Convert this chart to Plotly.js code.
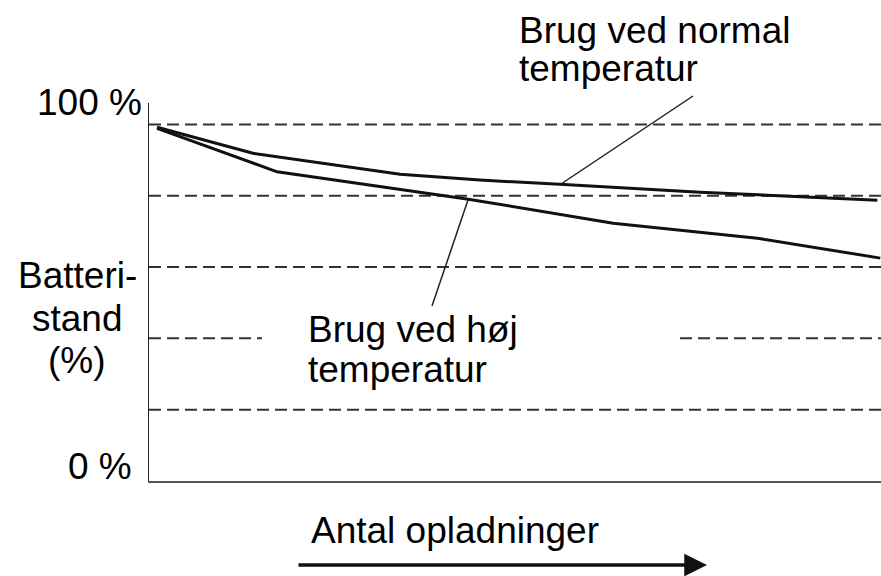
<!DOCTYPE html>
<html>
<head>
<meta charset="utf-8">
<script src="https://cdn.plot.ly/plotly-3.0.1.min.js"></script>
<style>html,body{margin:0;padding:0;background:#fff;}#chart{width:881px;height:576px;}</style>
</head>
<body>
<div id="chart"></div>
<script>
// Data (x: relative number of charges 0-100, y: battery level %)
const cyclesNormal = [1.1, 14.2, 34.3, 45.2, 56.1, 75.3, 99.5];
const levelNormal  = [99.2, 91.9, 86.0, 84.4, 83.2, 81.0, 78.7];
const cyclesHigh   = [1.1, 17.5, 43.4, 63.4, 83.1, 99.9];
const levelHigh    = [98.9, 86.7, 79.1, 72.3, 68.1, 62.5];
const gridLevels   = [20, 40, 60, 80, 100];
const labelNormal  = ["Brug ved normal", "temperatur"];
const labelHigh    = ["Brug ved høj", "temperatur"];
const yLabel       = ["Batteri-", "stand", "(%)"];
const yTickTop     = "100 %";
const yTickBottom  = "0 %";
const xLabel       = "Antal opladninger";

// pixel -> paper helpers (plot area: x 149..881, y 103..481)
const L = 149, W = 732, B = 481, H = 378;
const PX = p => (p - L) / W;
const PY = p => (B - p) / H;

const font = {family: 'Liberation Sans, Arial, sans-serif', size: 37, color: '#000'};
const txt = (text, x, y, xa) => ({text, x: PX(x), y: PY(y), xref: 'paper', yref: 'paper',
  xanchor: xa, yanchor: 'middle', showarrow: false, font});

const traces = [
  {x: cyclesNormal, y: levelNormal, mode: 'lines', line: {color: '#111', width: 3}, hoverinfo: 'none'},
  {x: cyclesHigh, y: levelHigh, mode: 'lines', line: {color: '#111', width: 3}, hoverinfo: 'none'}
];

// dashed grid lines (the 40 % line is interrupted behind the label)
const gridStyle = {color: '#333', width: 2, dash: '12px,6px'};
const gridShapes = [];
gridLevels.forEach(v => {
  const segs = v === 40 ? [[0, PX(262)], [PX(680), 1]] : [[0, 1]];
  segs.forEach(s => gridShapes.push({type: 'line', layer: 'below', xref: 'paper', yref: 'y',
    x0: s[0], x1: s[1], y0: v, y1: v, line: gridStyle}));
});

const layout = {
  width: 881, height: 576,
  margin: {l: L, r: 0, t: 103, b: 576 - B},
  paper_bgcolor: '#fff', plot_bgcolor: '#fff',
  showlegend: false,
  xaxis: {range: [0, 100], showline: true, linecolor: '#555', linewidth: 2,
          showgrid: false, zeroline: false, showticklabels: false, ticks: ''},
  yaxis: {range: [0, 106], showline: true, linecolor: '#222', linewidth: 1.5,
          showticklabels: false, ticks: '', showgrid: false, zeroline: false},
  shapes: gridShapes.concat([
    // leader lines
    {type: 'line', xref: 'paper', yref: 'paper', x0: PX(561), y0: PY(184), x1: PX(693), y1: PY(96),
     line: {color: '#222', width: 1.5}},
    {type: 'line', xref: 'paper', yref: 'paper', x0: PX(468), y0: PY(200), x1: PX(432), y1: PY(306),
     line: {color: '#222', width: 1.5}}
  ]),
  annotations: [
    txt(labelNormal[0], 517, 30, 'left'),
    txt(labelNormal[1], 517, 68, 'left'),
    txt(labelHigh[0], 306, 329, 'left'),
    txt(labelHigh[1], 306, 369, 'left'),
    txt(yTickTop, 144, 102, 'right'),
    txt(yTickBottom, 134, 466, 'right'),
    txt(yLabel[0], 77, 275, 'center'),
    txt(yLabel[1], 77, 318, 'center'),
    txt(yLabel[2], 77, 360, 'center'),
    txt(xLabel, 455, 530, 'center'),
    {text: '', xref: 'paper', yref: 'paper', x: PX(707), y: PY(565), axref: 'pixel', ayref: 'pixel',
     ax: -410, ay: 0, showarrow: true, arrowhead: 2, arrowsize: 1.3, arrowwidth: 3.5, arrowcolor: '#111'}
  ]
};

Plotly.newPlot('chart', traces, layout, {staticPlot: true, displayModeBar: false});
</script>
</body>
</html>
